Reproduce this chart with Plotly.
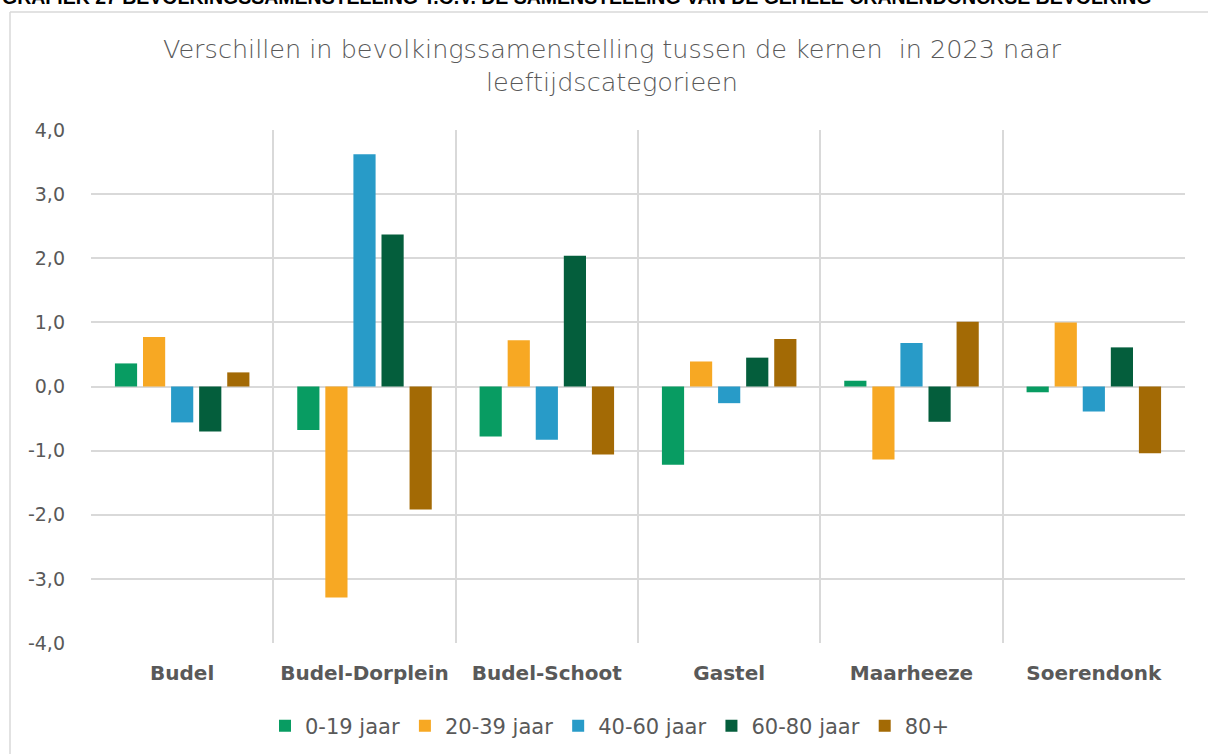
import plotly.graph_objects as go

categories = ["Budel", "Budel-Dorplein", "Budel-Schoot", "Gastel", "Maarheeze", "Soerendonk"]
series_names = ["0-19 jaar", "20-39 jaar", "40-60 jaar", "60-80 jaar", "80+"]
v_0_19 = [0.36, -0.68, -0.78, -1.22, 0.09, -0.09]
v_20_39 = [0.77, -3.29, 0.72, 0.39, -1.14, 1.00]
v_40_60 = [-0.56, 3.62, -0.83, -0.26, 0.68, -0.39]
v_60_80 = [-0.70, 2.37, 2.04, 0.45, -0.55, 0.61]
v_80 = [0.22, -1.92, -1.06, 0.74, 1.01, -1.04]
series_values = [v_0_19, v_20_39, v_40_60, v_60_80, v_80]
colors = ["#089C62", "#F7A823", "#289BC8", "#045E3C", "#A36A05"]
y_tick_vals = [-4, -3, -2, -1, 0, 1, 2, 3, 4]
y_tick_text = ["-4,0", "-3,0", "-2,0", "-1,0", "0,0", "1,0", "2,0", "3,0", "4,0"]

FONT = "DejaVu Sans"
TXT = "#595959"

W, H = 1208, 754
ML, MR, MT, MB = 91, 23, 130, 111
PW, PH = W - ML - MR, H - MT - MB  # 1094 x 513
BOT = MT + PH


def py(p):
    return (BOT - p) / PH


def px(p):
    return (p - ML) / PW


fig = go.Figure()
for name, vals, col in zip(series_names, series_values, colors):
    fig.add_trace(go.Bar(x=categories, y=vals, name=name, marker_color=col,
                         marker_line_width=0))

fig.update_layout(
    width=W, height=H,
    margin=dict(l=ML, r=MR, t=MT, b=MB, autoexpand=False),
    paper_bgcolor="white", plot_bgcolor="white",
    barmode="group", bargap=0.23, bargroupgap=0.21,
    font=dict(family=FONT, color=TXT, size=19),
    title=dict(text="Verschillen in bevolkingssamenstelling tussen de kernen  in 2023 naar<br>leeftijdscategorieen",
               x=px(612), xanchor="center", xref="paper", y=1 - 58 / H, yanchor="middle",
               font=dict(family=FONT, size=25.5, color=TXT, weight=300)),
    legend=dict(orientation="h", x=px(610), xanchor="center", y=py(726), yanchor="middle",
                font=dict(family=FONT, size=21, color=TXT), itemwidth=30,
                traceorder="normal"),
    xaxis=dict(type="category", tickson="boundaries", showgrid=True, gridcolor="#D9D9D9",
               gridwidth=1.5, ticks="", showline=False, zeroline=False, automargin=False,
               tickfont=dict(family=FONT, size=20, color=TXT, weight="bold"),
               ticklabelstandoff=16),
    yaxis=dict(range=[-4, 4], tickvals=y_tick_vals, ticktext=y_tick_text, showgrid=True,
               gridcolor="#D9D9D9", gridwidth=1.5, zeroline=True, zerolinecolor="#D9D9D9",
               zerolinewidth=1.5, showline=False, ticks="", automargin=False,
               tickfont=dict(family=FONT, size=19, color=TXT), ticklabelstandoff=25),
)

# outer frame (top and left edges visible in the reference)
fig.add_shape(type="line", xref="paper", yref="paper",
              x0=px(10), x1=px(1400), y0=py(12), y1=py(12),
              line=dict(color="#D9D9D9", width=1.5), layer="below")
fig.add_shape(type="line", xref="paper", yref="paper",
              x0=px(10), x1=px(10), y0=py(12), y1=py(900),
              line=dict(color="#D9D9D9", width=1.5), layer="below")

fig.add_annotation(text="GRAFIEK 27 BEVOLKINGSSAMENSTELLING T.O.V. DE SAMENSTELLING VAN DE GEHELE CRANENDONCKSE BEVOLKING",
                   xref="paper", yref="paper", x=px(0), xanchor="left",
                   y=py(10), yanchor="bottom", showarrow=False,
                   font=dict(family="Liberation Sans", size=19.5, color="#000000", weight="bold"))

fig.write_html("out.html", config={"displayModeBar": False},
               post_script="document.body.style.margin='0';")
